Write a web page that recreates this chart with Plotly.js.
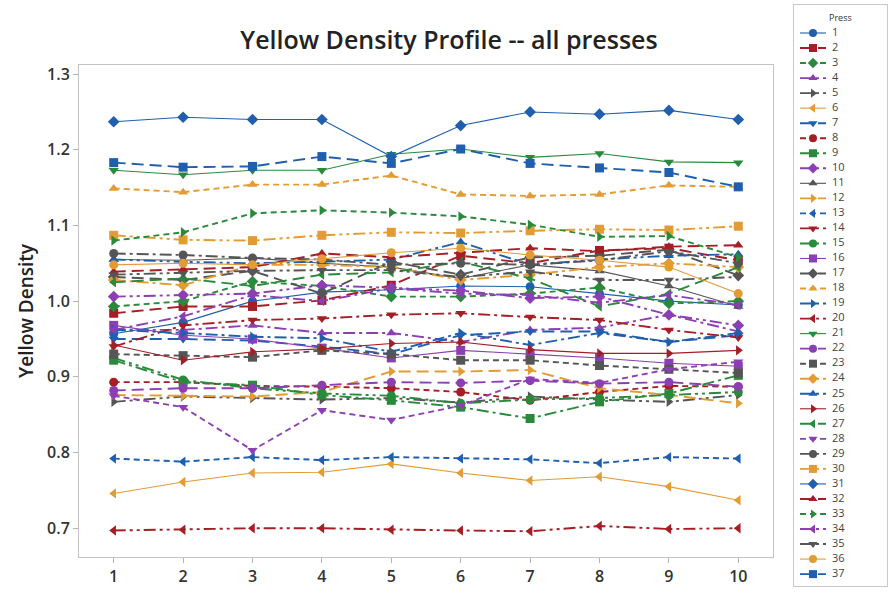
<!DOCTYPE html>
<html>
<head>
<meta charset="utf-8">
<script src="https://cdn.plot.ly/plotly-3.0.1.min.js"></script>
<style>
  html, body { margin: 0; padding: 0; background: #ffffff; }
  #chart { width: 891px; height: 593px; }
</style>
</head>
<body>
<div id="chart"></div>
<script>
// Sample positions along each press run
const samples = [1, 2, 3, 4, 5, 6, 7, 8, 9, 10];

// Yellow density readings, one array per press
const press1  = [0.957, 0.972, 1.000, 1.012, 1.015, 1.020, 1.019, 1.010, 1.000, 0.995];
const press2  = [0.984, 0.993, 0.993, 1.001, 1.021, 1.060, 1.050, 1.067, 1.070, 1.054];
const press3  = [0.993, 1.000, 1.026, 1.020, 1.006, 1.006, 1.010, 1.018, 0.997, 1.000];
const press4  = [0.962, 0.962, 0.968, 0.958, 0.958, 0.946, 0.962, 0.965, 0.982, 0.960];
const press5  = [0.867, 0.874, 0.872, 0.870, 0.872, 0.866, 0.874, 0.870, 0.867, 0.876];
const press6  = [0.746, 0.761, 0.773, 0.774, 0.785, 0.773, 0.763, 0.768, 0.755, 0.737];
const press7  = [0.950, 0.950, 0.948, 0.940, 0.930, 0.955, 0.960, 0.960, 0.946, 0.955];
const press8  = [0.893, 0.893, 0.888, 0.887, 0.885, 0.880, 0.869, 0.880, 0.888, 0.887];
const press9  = [0.922, 0.893, 0.889, 0.876, 0.869, 0.860, 0.845, 0.867, 0.878, 0.902];
const press10 = [1.006, 1.008, 1.010, 1.021, 1.018, 1.014, 1.004, 1.006, 0.982, 0.968];
const press11 = [1.055, 1.054, 1.057, 1.050, 1.045, 1.030, 1.048, 1.040, 1.020, 0.993];
const press12 = [0.876, 0.875, 0.874, 0.880, 0.907, 0.907, 0.909, 0.885, 0.876, 0.865];
const press13 = [0.792, 0.788, 0.794, 0.790, 0.794, 0.792, 0.791, 0.786, 0.794, 0.792];
const press14 = [0.940, 0.968, 0.975, 0.977, 0.982, 0.984, 0.979, 0.975, 0.962, 0.952];
const press15 = [0.925, 0.896, 0.885, 0.878, 0.875, 0.865, 0.870, 0.872, 0.876, 0.880];
const press16 = [0.968, 0.955, 0.950, 0.938, 0.925, 0.935, 0.930, 0.925, 0.918, 0.914];
const press17 = [1.032, 1.028, 1.040, 1.010, 1.052, 1.035, 1.058, 1.060, 1.068, 1.034];
const press18 = [1.149, 1.144, 1.154, 1.154, 1.166, 1.141, 1.139, 1.141, 1.153, 1.151];
const press19 = [0.962, 0.958, 0.953, 0.951, 0.933, 0.958, 0.942, 0.958, 0.946, 0.958];
const press20 = [0.697, 0.698, 0.700, 0.700, 0.698, 0.697, 0.696, 0.703, 0.699, 0.700];
const press21 = [1.173, 1.167, 1.173, 1.173, 1.194, 1.201, 1.190, 1.195, 1.184, 1.183];
const press22 = [0.882, 0.885, 0.885, 0.889, 0.893, 0.892, 0.895, 0.891, 0.893, 0.887];
const press23 = [0.930, 0.928, 0.926, 0.935, 0.930, 0.922, 0.922, 0.915, 0.910, 0.905];
const press24 = [1.028, 1.021, 1.048, 1.048, 1.045, 1.028, 1.035, 1.045, 1.050, 1.045];
const press25 = [1.055, 1.052, 1.050, 1.052, 1.055, 1.078, 1.048, 1.055, 1.060, 1.062];
const press26 = [0.942, 0.922, 0.933, 0.937, 0.944, 0.946, 0.936, 0.931, 0.931, 0.935];
const press27 = [1.025, 1.030, 1.020, 1.035, 1.038, 1.052, 1.030, 0.993, 1.010, 1.045];
const press28 = [0.875, 0.860, 0.803, 0.856, 0.843, 0.862, 0.897, 0.892, 0.910, 0.920];
const press29 = [1.063, 1.061, 1.057, 1.055, 1.048, 1.050, 1.048, 1.054, 1.066, 1.050];
const press30 = [1.087, 1.081, 1.080, 1.087, 1.091, 1.090, 1.093, 1.095, 1.094, 1.099];
const press31 = [1.237, 1.243, 1.240, 1.240, 1.191, 1.232, 1.250, 1.247, 1.252, 1.240];
const press32 = [1.039, 1.042, 1.045, 1.063, 1.058, 1.064, 1.070, 1.066, 1.072, 1.074];
const press33 = [1.080, 1.091, 1.116, 1.120, 1.117, 1.112, 1.101, 1.085, 1.086, 1.058];
const press34 = [0.962, 0.980, 1.008, 1.000, 1.017, 1.010, 1.008, 0.998, 1.008, 0.995];
const press35 = [1.035, 1.037, 1.040, 1.041, 1.041, 1.032, 1.039, 1.028, 1.028, 1.032];
const press36 = [1.048, 1.050, 1.048, 1.056, 1.064, 1.070, 1.061, 1.054, 1.045, 1.010];
const press37 = [1.183, 1.177, 1.178, 1.191, 1.182, 1.201, 1.182, 1.176, 1.170, 1.151];

const pressNames = ['1','2','3','4','5','6','7','8','9','10','11','12','13','14','15','16','17','18','19',
  '20','21','22','23','24','25','26','27','28','29','30','31','32','33','34','35','36','37'];

const series = [press1, press2, press3, press4, press5, press6, press7, press8, press9, press10,
  press11, press12, press13, press14, press15, press16, press17, press18, press19, press20,
  press21, press22, press23, press24, press25, press26, press27, press28, press29, press30,
  press31, press32, press33, press34, press35, press36, press37];

// Group styling cycles: colour (6), symbol (7), line type (5)
const palette = ['#1f5fae', '#a51d25', '#2a8a3c', '#8b3fb3', '#555555', '#e39b33'];
const symbols = ['circle', 'square', 'diamond', 'triangle-up', 'triangle-right', 'triangle-left', 'triangle-down'];
const dashes = ['solid', '12px,6px', '6px,4px', '12px,4px,3px,4px', '12px,4px,3px,4px,3px,4px'];

const FONT = 'Open Sans, Noto Sans, sans-serif';
const traces = [];

series.forEach((vals, i) => {
  const dash = dashes[i % dashes.length];
  traces.push({
    type: 'scatter', mode: 'lines+markers',
    x: samples, y: vals, name: pressNames[i],
    xaxis: 'x', yaxis: 'y',
    line: { color: palette[i % palette.length], width: dash === 'solid' ? 1.1 : 1.9, dash: dash },
    marker: { symbol: symbols[i % symbols.length], size: 9, color: palette[i % palette.length], line: { width: 0 } },
    showlegend: false, hoverinfo: 'x+y+name'
  });
});

// Key panel: one row per press, drawn on its own small axis pair
const keyLine = [6, 19, 32];
series.forEach((vals, i) => {
  const dash = dashes[i % dashes.length];
  const row = i + 1;
  traces.push({
    type: 'scatter', mode: 'lines+markers+text',
    x: keyLine, y: [row, row, row],
    xaxis: 'x2', yaxis: 'y2',
    text: ['', '', pressNames[i]], textposition: 'middle right',
    textfont: { family: FONT, size: 11, color: '#444' },
    line: { color: palette[i % palette.length], width: dash === 'solid' ? 1.1 : 1.9, dash: dash },
    marker: {
      symbol: symbols[i % symbols.length], size: [8, 8, 8], opacity: [0, 1, 0],
      color: palette[i % palette.length], line: { width: 0 }
    },
    showlegend: false, hoverinfo: 'skip', cliponaxis: false
  });
});

const W = 891, H = 593;
const layout = {
  width: W, height: H,
  margin: { l: 0, r: 0, t: 0, b: 0 },
  paper_bgcolor: '#ffffff', plot_bgcolor: '#ffffff',
  font: { family: FONT, color: '#333' },
  title: {
    text: 'Yellow Density Profile -- all presses',
    font: { family: FONT, size: 25, weight: 600, color: '#222' },
    xref: 'container', yref: 'container', x: 449 / W, y: 1 - 40 / H,
    xanchor: 'center', yanchor: 'middle'
  },
  xaxis: {
    domain: [79 / W, 773 / W], range: [0.5, 10.5],
    tickvals: samples, ticktext: samples.map(String),
    ticks: 'outside', ticklen: 5, tickcolor: '#b5b5b5',
    showline: true, mirror: true, linecolor: '#c3c3c3', linewidth: 1,
    showgrid: false, zeroline: false,
    tickfont: { family: FONT, size: 16, weight: 600, color: '#333' }
  },
  yaxis: {
    domain: [1 - 557 / H, 1 - 65 / H], range: [0.662, 1.312],
    tick0: 0.7, dtick: 0.1, tickformat: '.1f',
    ticks: 'outside', ticklen: 5, tickcolor: '#b5b5b5',
    showline: true, mirror: true, linecolor: '#c3c3c3', linewidth: 1,
    showgrid: false, zeroline: false,
    tickfont: { family: FONT, size: 16, weight: 600, color: '#333' },
    title: { text: 'Yellow Density', font: { family: FONT, size: 19, weight: 600, color: '#222' }, standoff: 8 }
  },
  xaxis2: {
    domain: [794 / W, 887 / W], range: [0, 93], anchor: 'y2',
    showline: true, mirror: true, linecolor: '#c8c8c8', linewidth: 1,
    showticklabels: false, ticks: '', showgrid: false, zeroline: false, fixedrange: true
  },
  yaxis2: {
    domain: [1 - 586 / H, 1 - 5 / H], range: [37.79, -0.863], anchor: 'x2',
    showline: true, mirror: true, linecolor: '#c8c8c8', linewidth: 1,
    showticklabels: false, ticks: '', showgrid: false, zeroline: false, fixedrange: true
  },
  annotations: [{
    text: 'Press', xref: 'x2', yref: 'y2', x: 46.5, y: 0,
    showarrow: false, font: { family: FONT, size: 9, color: '#333' }
  }]
};

Plotly.newPlot('chart', traces, layout, { displayModeBar: false, staticPlot: true });
</script>
</body>
</html>
